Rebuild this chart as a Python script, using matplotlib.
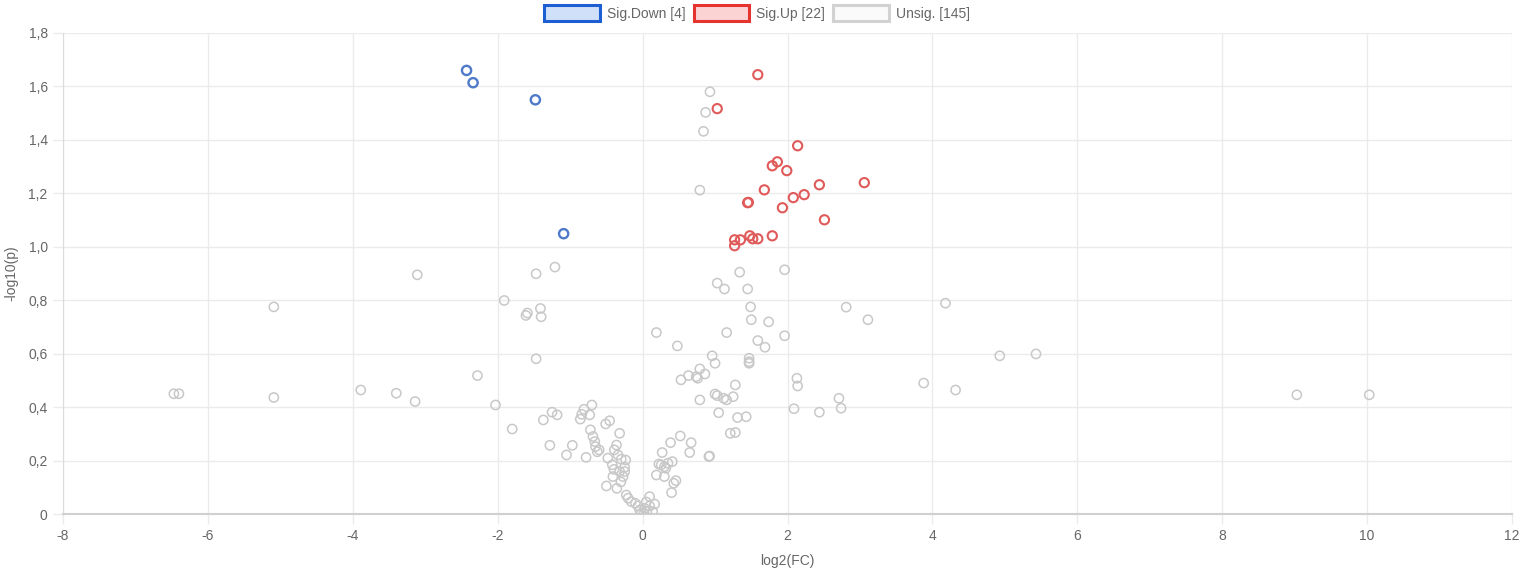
import matplotlib
matplotlib.use("Agg")
import matplotlib.pyplot as plt
from matplotlib.patches import Patch
from matplotlib.ticker import FuncFormatter
import numpy as np

plt.rcParams['font.family'] = ['Liberation Sans', 'DejaVu Sans']

# ---- datos ----
down_x = [-2.43, -2.34, -1.48, -1.09]
down_y = [1.660, 1.614, 1.550, 1.049]

up_x = [1.59, 1.03, 2.14, 1.86, 1.79, 1.99, 1.68, 2.44, 3.06, 2.23, 2.08,
        1.45, 1.46, 1.93, 2.51, 1.79, 1.48, 1.27, 1.35, 1.52, 1.59, 1.27]
up_y = [1.644, 1.517, 1.378, 1.318, 1.303, 1.285, 1.213, 1.232, 1.240, 1.195, 1.184,
        1.165, 1.166, 1.146, 1.101, 1.041, 1.041, 1.026, 1.026, 1.030, 1.030, 1.004]

unsig_x = [-6.47, -6.40, -5.09, -5.09, -3.11, -3.89, -3.40, -3.14, -2.28, -2.03,
           -1.91, -1.80, -1.47, -1.21, -1.59, -1.61, -1.41, -1.40, -1.47, -1.25,
           -1.18, -1.37, -1.28, -1.05, -0.97, -0.70, -0.81, -0.84, -0.73, -0.86,
           -0.455, -0.51, -0.72, -0.317, -0.685, -0.66, -0.36, -0.65, -0.625, -0.39,
           -0.78, -0.48, -0.34, -0.294, -0.234, -0.418, -0.395, -0.248, -0.248, -0.317,
           -0.41, -0.27, -0.50, -0.355, -0.225, -0.20, -0.156, -0.065, -0.04, -0.018,
           0.028, 0.06, 0.097, 0.097, 0.166, 0.14, 0.52, 0.386, 0.67, 0.65,
           0.915, 0.925, 0.27, 0.41, 0.225, 0.257, 0.30, 0.32, 0.19, 0.30,
           0.46, 0.43, 0.40, 1.34, 1.96, 1.03, 1.13, 1.45, 1.49, 1.50,
           1.74, 0.19, 1.16, 1.96, 0.48, 1.59, 1.69, 0.96, 1.00, 1.47,
           1.47, 1.47, 0.79, 0.76, 0.86, 0.634, 0.53, 0.74, 2.13, 2.14,
           1.28, 1.00, 1.03, 0.79, 1.12, 1.16, 1.25, 2.71, 2.74, 1.05,
           2.09, 2.44, 1.31, 1.43, 1.21, 1.28, 2.81, 3.11, 4.18, 4.93,
           5.43, 3.88, 4.32, 9.03, 10.03, 0.93, 0.87, 0.84, 0.79, -0.10,
           0.05, -0.30, -0.60, 0.35, 0.02]
unsig_y = [0.450, 0.450, 0.775, 0.436, 0.895, 0.464, 0.452, 0.421, 0.518, 0.408,
           0.799, 0.318, 0.899, 0.924, 0.752, 0.743, 0.769, 0.738, 0.581, 0.381,
           0.371, 0.352, 0.257, 0.221, 0.257, 0.408, 0.392, 0.373, 0.371, 0.355,
           0.349, 0.337, 0.315, 0.302, 0.290, 0.271, 0.258, 0.252, 0.233, 0.240,
           0.212, 0.209, 0.221, 0.205, 0.202, 0.184, 0.167, 0.175, 0.159, 0.159,
           0.140, 0.140, 0.105, 0.096, 0.071, 0.059, 0.046, 0.030, 0.015, 0.003,
           0.021, 0.009, 0.065, 0.030, 0.037, 0.009, 0.292, 0.267, 0.267, 0.230,
           0.215, 0.217, 0.230, 0.196, 0.187, 0.184, 0.177, 0.171, 0.146, 0.140,
           0.125, 0.115, 0.080, 0.905, 0.914, 0.864, 0.842, 0.842, 0.775, 0.727,
           0.719, 0.679, 0.679, 0.667, 0.629, 0.649, 0.624, 0.592, 0.564, 0.583,
           0.570, 0.564, 0.543, 0.508, 0.524, 0.518, 0.502, 0.514, 0.508, 0.479,
           0.483, 0.449, 0.443, 0.427, 0.433, 0.427, 0.439, 0.433, 0.396, 0.379,
           0.394, 0.381, 0.361, 0.364, 0.302, 0.305, 0.774, 0.727, 0.789, 0.592,
           0.599, 0.490, 0.464, 0.446, 0.446, 1.580, 1.503, 1.432, 1.212, 0.040,
           0.045, 0.120, 0.240, 0.190, 0.002]

x_ticks = [-8, -6, -4, -2, 0, 2, 4, 6, 8, 10, 12]
y_ticks = [0, 0.2, 0.4, 0.6, 0.8, 1.0, 1.2, 1.4, 1.6, 1.8]

fig = plt.figure(figsize=(15.35, 5.79), dpi=100)
ax = fig.add_axes([63 / 1535, 1 - 514 / 579, (1512 - 63) / 1535, (514 - 33) / 579])

grid_col = '#ebebeb'
ax.scatter(unsig_x, unsig_y, s=44, facecolors='none', edgecolors='#c8c8c8', linewidths=1.1, zorder=3)
ax.scatter(up_x, up_y, s=44, facecolors='none', edgecolors='#e05a5a', linewidths=1.5, zorder=4)
ax.scatter(down_x, down_y, s=44, facecolors='none', edgecolors='#4f79c9', linewidths=1.7, zorder=5)

ax.set_xlim(-8, 12)
ax.set_ylim(0, 1.8)
ax.set_xticks(x_ticks)
ax.set_yticks(y_ticks)
ax.xaxis.set_major_formatter(FuncFormatter(lambda v, p: '%d' % round(v)))
ax.yaxis.set_major_formatter(FuncFormatter(lambda v, p: '0' if abs(v) < 1e-9 else ('%.1f' % v).replace('.', ',')))
ax.grid(True, color=grid_col, linewidth=1, zorder=0)
ax.tick_params(colors='#666666', labelsize=10, length=7, width=1, pad=4)
ax.tick_params(axis='both', color=grid_col)
for s in ['top', 'right']:
    ax.spines[s].set_visible(False)
ax.spines['left'].set_color('#dcdcdc')
ax.spines['bottom'].set_color('#d0d0d0')
ax.spines['bottom'].set_linewidth(1.5)

ax.set_xlabel('log2(FC)', color='#666666', fontsize=10, labelpad=8)
ax.set_ylabel('-log10(p)', color='#666666', fontsize=10)
ax.yaxis.set_label_coords((18 - 63) / 1449, 0.5)

handles = [
    Patch(facecolor='#cfe0f8', edgecolor='#1d5fd3', linewidth=2.2, label='Sig.Down [4]'),
    Patch(facecolor='#fbd3d3', edgecolor='#e5332f', linewidth=2.2, label='Sig.Up [22]'),
    Patch(facecolor='#fafafa', edgecolor='#d2d2d2', linewidth=2.2, label='Unsig. [145]'),
]
leg = fig.legend(handles=handles, loc='center', bbox_to_anchor=(757 / 1535, 1 - 13 / 579),
                 ncol=3, frameon=False, fontsize=10, handlelength=4.0, handleheight=1.3,
                 handletextpad=0.5, columnspacing=0.6)
for t in leg.get_texts():
    t.set_color('#666666')

fig.savefig('out.png', dpi=100)
